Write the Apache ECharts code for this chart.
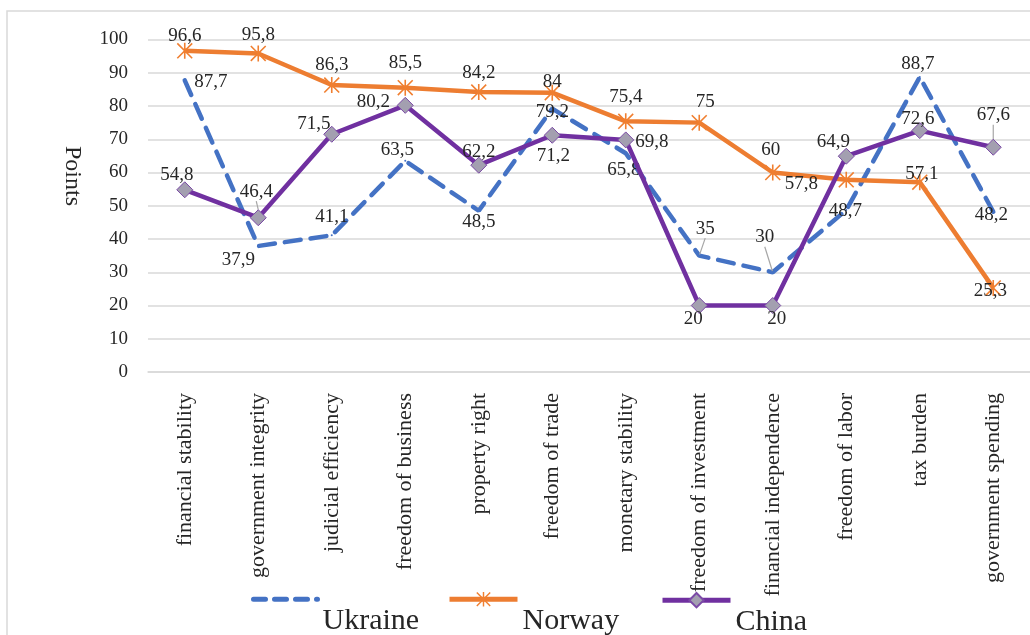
<!DOCTYPE html>
<html>
<head>
<meta charset="utf-8">
<script src="https://cdn.jsdelivr.net/npm/echarts@6/dist/echarts.min.js"></script>
<style>
  html, body { margin: 0; padding: 0; background: #fff; }
  #chart { width: 1030px; height: 635px; }
</style>
</head>
<body>
<div id="chart"></div>
<script>
// Index components compared for three countries
const categories = [
  'financial stability', 'government integrity', 'judicial efficiency',
  'freedom of business', 'property right', 'freedom of trade',
  'monetary stability', 'freedom of investment', 'financial independence',
  'freedom of labor', 'tax burden', 'government spending'
];
const ukraine = [87.7, 37.9, 41.1, 63.5, 48.5, 79.2, 65.8, 35, 30, 48.7, 88.7, 48.2];
const norway  = [96.6, 95.8, 86.3, 85.5, 84.2, 84, 75.4, 75, 60, 57.8, 57.1, 25.3];
const china   = [54.8, 46.4, 71.5, 80.2, 62.2, 71.2, 69.8, 20, 20, 64.9, 72.6, 67.6];
const yTicks = { min: 0, max: 100, interval: 10 };

// Label placement (label centre relative to its point, px)
const ukraineLabelShift = [[26, 2], [-20, 14], [0, -18], [-8, -11], [0, 11], [0, 3],
  [-2, 17], [6, -27], [-8, -35], [-1, 1], [-2, -13], [-2, 3]];
const norwayLabelShift = [[0, -15], [0, -18], [0, -20], [0, -25], [0, -19], [0, -11],
  [0, -24], [6, -21], [-2, -22], [-45, 4], [2, -8], [-3, 3]];
const chinaLabelShift = [[-8, -15], [-2, -26], [-18, -10], [-32, -3], [0, -13], [1, 21],
  [26, 2], [-6, 14], [4, 14], [-13, -14], [-2, -12], [0, -32]];
// Points whose labels get a leader line
const leaderLines = { 0: [7, 8], 1: [], 2: [1, 11] };
const shifts = [ukraineLabelShift, norwayLabelShift, chinaLabelShift];

const SERIF = "'Liberation Serif', 'Times New Roman', serif";
const TEXT = '#262626';
const GRID = '#d9d9d9';

// Asterisk marker (x plus vertical bar)
const asterisk = 'path://M9,0 L11,0 L11,20 L9,20 Z ' +
  'M0,1.4 L1.4,0 L20,18.6 L18.6,20 Z M18.6,0 L20,1.4 L1.4,20 L0,18.6 Z';

function points(values, seriesIdx) {
  return values.map((v, i) => {
    const item = { value: v };
    if (leaderLines[seriesIdx].includes(i)) {
      item.labelLine = { show: true };
    }
    return item;
  });
}

const labelBase = {
  show: true,
  position: 'inside',
  color: TEXT,
  fontFamily: SERIF,
  fontSize: 19,
  formatter: p => String(p.value).replace('.', ',')
};
const labelLineBase = {
  show: false,
  lineStyle: { color: '#a6a6a6', width: 1.2 }
};

const chart = echarts.init(document.getElementById('chart'), null, { renderer: 'canvas' });

// Legend names sit lower than their line keys
const legendText = {
  fontFamily: SERIF, fontSize: 30, color: TEXT,
  rich: {
    t: { fontFamily: SERIF, fontSize: 30, color: TEXT, padding: [44, 0, 0, 0] }
  }
};
const legendFormatter = name => '{t|' + name + '}';

chart.setOption({
  backgroundColor: '#fff',
  animation: false,
  grid: { left: 148, right: -15, top: 39.5, bottom: 263, containLabel: false },
  graphic: [
    {
      type: 'rect', z: -10, silent: true,
      shape: { x: 7, y: 11, width: 1040, height: 640 },
      style: { fill: 'none', stroke: GRID, lineWidth: 1.5 }
    },
    {
      type: 'text', x: 72, y: 176, rotation: -Math.PI / 2,
      style: {
        text: 'Points', fontFamily: SERIF, fontSize: 24, fill: TEXT,
        align: 'center', verticalAlign: 'middle'
      }
    }
  ],
  legend: [
    {
      data: ['Ukraine'], left: 246, top: 587, padding: 5,
      itemWidth: 64, itemHeight: 18, textStyle: legendText, formatter: legendFormatter,
      itemStyle: { opacity: 0 },
      lineStyle: { width: 5, type: [12, 9], cap: 'round' }
    },
    {
      data: ['Norway'], left: 442, top: 587, padding: 5,
      itemWidth: 68, itemHeight: 18, textStyle: legendText, formatter: legendFormatter,
      lineStyle: { width: 5 }
    },
    {
      data: ['China'], left: 655, top: 587, padding: 5,
      itemWidth: 68, itemHeight: 18, textStyle: legendText, formatter: legendFormatter,
      lineStyle: { width: 5 }
    }
  ],
  xAxis: {
    type: 'category',
    data: categories,
    boundaryGap: true,
    axisLine: { show: true, lineStyle: { color: GRID, width: 1.5 } },
    axisTick: { show: false },
    axisLabel: {
      rotate: 90, margin: 21, interval: 0,
      fontFamily: SERIF, fontSize: 22, color: TEXT
    }
  },
  yAxis: {
    type: 'value',
    min: yTicks.min, max: yTicks.max, interval: yTicks.interval,
    axisLine: { show: false },
    axisTick: { show: false },
    axisLabel: { margin: 20, fontFamily: SERIF, fontSize: 19, color: TEXT },
    splitLine: { lineStyle: { color: GRID, width: 1.5 } }
  },
  labelLayout: p => {
    const s = shifts[p.seriesIndex][p.dataIndex];
    return { dx: s[0], dy: s[1] };
  },
  series: [
    {
      name: 'Ukraine', type: 'line',
      data: points(ukraine, 0),
      symbol: 'circle', symbolSize: 2,
      itemStyle: { color: '#4472C4' },
      lineStyle: { color: '#4472C4', width: 4.5, type: [16, 10], cap: 'round' },
      label: labelBase, labelLine: labelLineBase, z: 2
    },
    {
      name: 'Norway', type: 'line',
      data: points(norway, 1),
      symbol: asterisk, symbolSize: 16,
      itemStyle: { color: '#F07F30' },
      lineStyle: { color: '#ED7D31', width: 4.5 },
      label: labelBase, labelLine: labelLineBase, z: 3
    },
    {
      name: 'China', type: 'line',
      data: points(china, 2),
      symbol: 'diamond', symbolSize: 16,
      itemStyle: { color: '#A39FB0', borderColor: '#7B4AA6', borderWidth: 1 },
      lineStyle: { color: '#7030A0', width: 4.5 },
      label: labelBase, labelLine: labelLineBase, z: 4
    }
  ]
});
</script>
</body>
</html>
